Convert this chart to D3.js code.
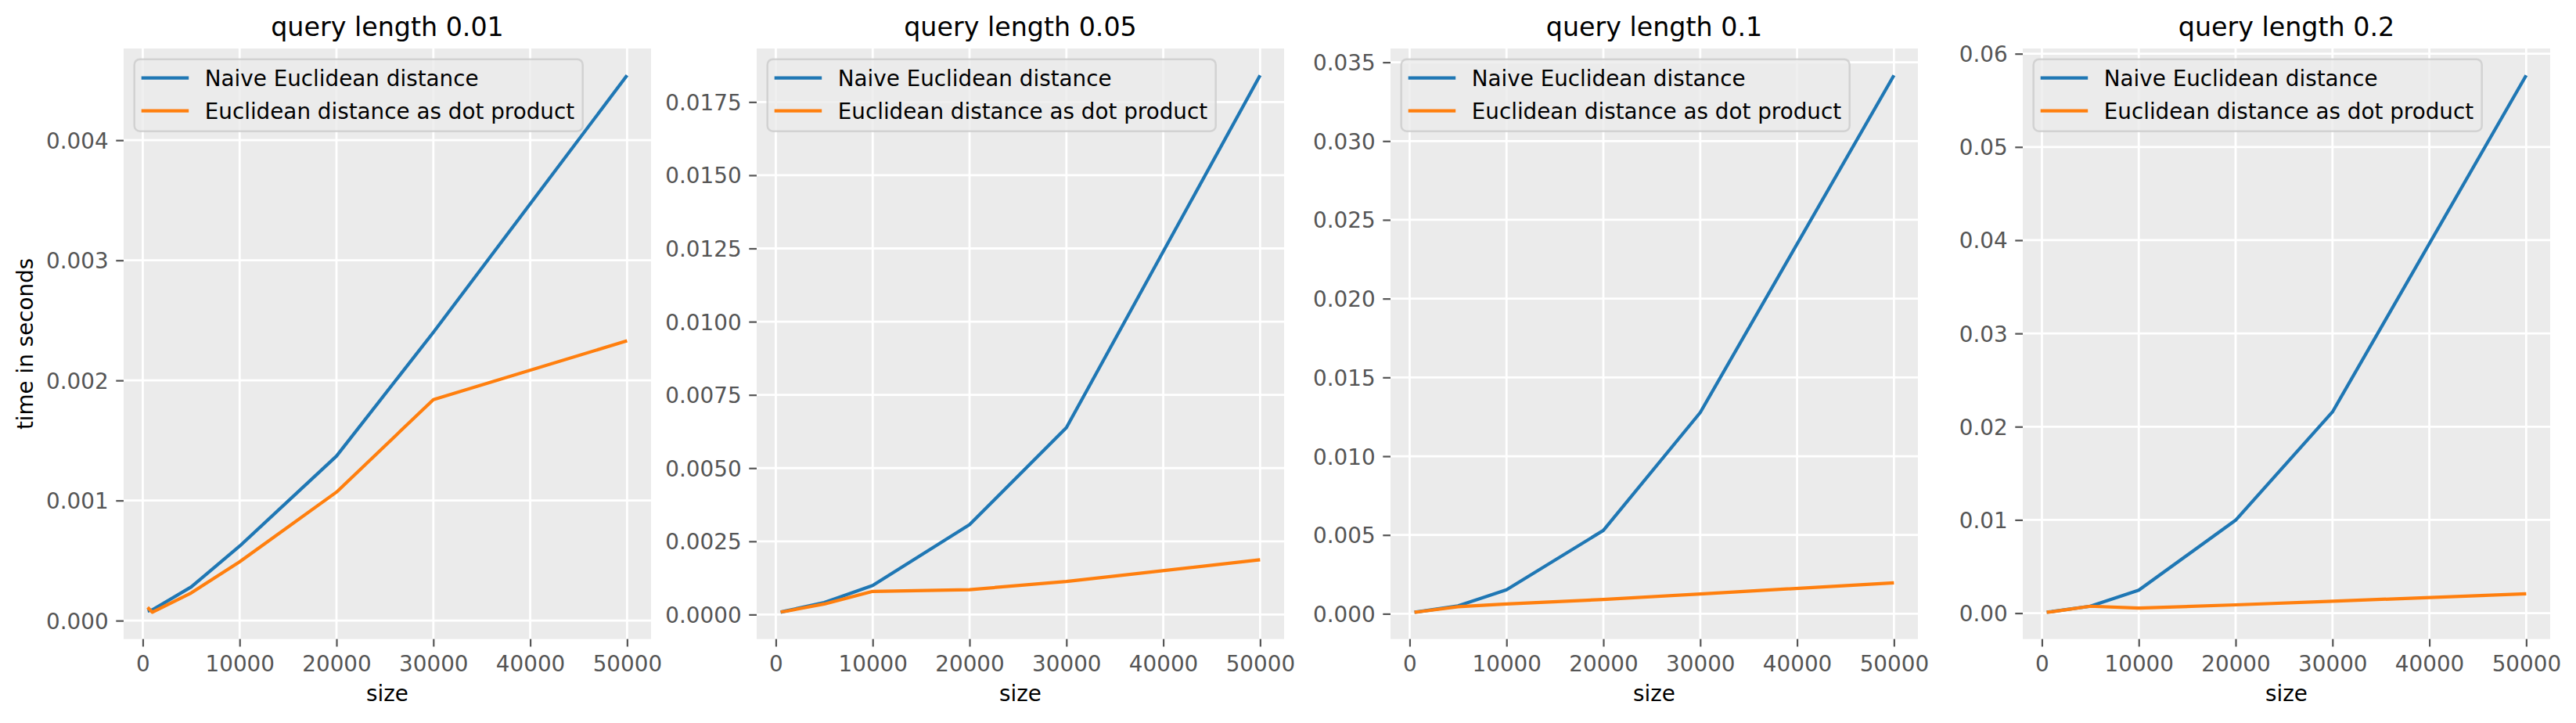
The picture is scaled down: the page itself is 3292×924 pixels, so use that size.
<!DOCTYPE html>
<html>
<head>
<meta charset="utf-8">
<script src="https://cdn.jsdelivr.net/npm/d3@7"></script>
<style>
  body { margin: 0; background: #fff; }
  text { font-family: 'DejaVu Sans', sans-serif; }
</style>
</head>
<body>
<div id="chart"></div>
<script>
var sizes = [500, 1000, 5000, 10000, 20000, 30000, 50000];
var titles = ['query length 0.01', 'query length 0.05', 'query length 0.1', 'query length 0.2'];
var seriesNames = ['Naive Euclidean distance', 'Euclidean distance as dot product'];

var naive001 = [0.00008, 0.00009, 0.00028, 0.00062, 0.00137, 0.00240, 0.00454];
var dot001 = [0.00011, 0.00007, 0.00023, 0.00049, 0.00107, 0.00184, 0.00233];
var naive005 = [0.00008, 0.00012, 0.00041, 0.00099, 0.00307, 0.00638, 0.01841];
var dot005 = [0.00009, 0.00011, 0.00036, 0.00079, 0.00085, 0.00113, 0.00187];
var naive01 = [0.00010, 0.00014, 0.00050, 0.00152, 0.00529, 0.01277, 0.03417];
var dot01 = [0.00010, 0.00013, 0.00045, 0.00062, 0.00091, 0.00126, 0.00196];
var naive02 = [0.00010, 0.00016, 0.00074, 0.00246, 0.00997, 0.02158, 0.05768];
var dot02 = [0.00010, 0.00014, 0.00074, 0.00054, 0.00089, 0.00128, 0.00207];

var xTicks = [0, 10000, 20000, 30000, 40000, 50000];
var yTicks001 = [0, 0.001, 0.002, 0.003, 0.004];
var yTicks005 = [0, 0.0025, 0.005, 0.0075, 0.01, 0.0125, 0.015, 0.0175];
var yTicks01 = [0, 0.005, 0.01, 0.015, 0.02, 0.025, 0.03, 0.035];
var yTicks02 = [0, 0.01, 0.02, 0.03, 0.04, 0.05, 0.06];
var yFormats = ['.3f', '.4f', '.3f', '.2f'];

var panels = [
  {title: titles[0], naive: naive001, dot: dot001, yTicks: yTicks001, fmt: yFormats[0]},
  {title: titles[1], naive: naive005, dot: dot005, yTicks: yTicks005, fmt: yFormats[1]},
  {title: titles[2], naive: naive01, dot: dot01, yTicks: yTicks01, fmt: yFormats[2]},
  {title: titles[3], naive: naive02, dot: dot02, yTicks: yTicks02, fmt: yFormats[3]}
];

var colors = ['#1f77b4', '#ff7f0e'];
var chartWidth = 3292;
var chartHeight = 924;
var lefts = [158, 967, 1777, 2585];
var axTop = 62;
var axWidth = 674;
var axHeight = 754.7;
var tickLen = 9.7;
var fontSize = 27.8;
var bg = '#ebebeb';

var svg = d3.select('#chart')
    .append('svg')
    .attr('width', chartWidth)
    .attr('height', chartHeight);

// matplotlib style 5% margins
function padded(ext) {
  var m = (ext[1] - ext[0]) * 0.05;
  return [ext[0] - m, ext[1] + m];
}

panels.forEach(function(p, i) {
  var g = svg.append('g')
      .attr('transform', 'translate(' + lefts[i] + ',' + axTop + ')');

  var scaleX = d3.scaleLinear()
      .domain(padded(d3.extent(sizes)))
      .range([0, axWidth]);

  var scaleY = d3.scaleLinear()
      .domain(padded(d3.extent(p.naive.concat(p.dot))))
      .range([axHeight, 0]);

  // background
  g.append('rect')
      .attr('width', axWidth)
      .attr('height', axHeight)
      .attr('fill', bg);

  // grid
  g.selectAll('.gx')
      .data(xTicks)
      .enter()
      .append('line')
      .attr('x1', function(d) { return scaleX(d); })
      .attr('x2', function(d) { return scaleX(d); })
      .attr('y1', 0)
      .attr('y2', axHeight)
      .attr('stroke', '#fff')
      .attr('stroke-width', 2.8);

  g.selectAll('.gy')
      .data(p.yTicks)
      .enter()
      .append('line')
      .attr('x1', 0)
      .attr('x2', axWidth)
      .attr('y1', function(d) { return scaleY(d); })
      .attr('y2', function(d) { return scaleY(d); })
      .attr('stroke', '#fff')
      .attr('stroke-width', 2.8);

  // axes
  var xAxis = d3.axisBottom(scaleX)
      .tickValues(xTicks)
      .tickFormat(d3.format('d'))
      .tickSize(tickLen)
      .tickPadding(9.7);

  var yAxis = d3.axisLeft(scaleY)
      .tickValues(p.yTicks)
      .tickFormat(d3.format(p.fmt))
      .tickSize(tickLen)
      .tickPadding(9.7);

  var ax = g.append('g')
      .attr('transform', 'translate(0,' + axHeight + ')')
      .call(xAxis);
  var ay = g.append('g').call(yAxis);

  [ax, ay].forEach(function(a) {
    a.select('.domain').remove();
    a.selectAll('line').attr('stroke', '#555').attr('stroke-width', 2.2);
    a.selectAll('text')
        .attr('fill', '#555')
        .style('font-size', fontSize + 'px')
        .style('font-family', 'DejaVu Sans');
  });
  ax.selectAll('text').attr('dy', null).attr('y', 41.8);
  ay.selectAll('text').attr('dy', '0.36em');

  // lines
  var line = d3.line()
      .x(function(d, j) { return scaleX(sizes[j]); })
      .y(function(d) { return scaleY(d); });

  [p.naive, p.dot].forEach(function(s, k) {
    g.append('path')
        .attr('d', line(s))
        .attr('fill', 'none')
        .attr('stroke', colors[k])
        .attr('stroke-width', 4.2)
        .attr('stroke-linejoin', 'round');
  });

  // title
  g.append('text')
      .attr('x', axWidth / 2)
      .attr('y', 45.5 - axTop)
      .attr('text-anchor', 'middle')
      .style('font-size', '33.3px')
      .attr('fill', '#000')
      .text(p.title);

  // x label
  g.append('text')
      .attr('x', axWidth / 2)
      .attr('y', 896 - axTop)
      .attr('text-anchor', 'middle')
      .style('font-size', fontSize + 'px')
      .attr('fill', '#000')
      .text('size');

  // legend
  var lg = g.append('g').attr('transform', 'translate(13.7,13.7)');
  lg.append('rect')
      .attr('width', 573)
      .attr('height', 92)
      .attr('rx', 7)
      .attr('fill', bg)
      .attr('fill-opacity', 0.8)
      .attr('stroke', '#cccccc')
      .attr('stroke-opacity', 0.8)
      .attr('stroke-width', 2.5);

  seriesNames.forEach(function(name, k) {
    var yy = 24 + k * 42;
    lg.append('line')
        .attr('x1', 9)
        .attr('x2', 69.5)
        .attr('y1', yy)
        .attr('y2', yy)
        .attr('stroke', colors[k])
        .attr('stroke-width', 4.2);
    lg.append('text')
        .attr('x', 90)
        .attr('y', yy + 10.2)
        .style('font-size', fontSize + 'px')
        .attr('fill', '#000')
        .text(name);
  });
});

// y label on the first panel only
svg.append('text')
    .attr('transform', 'translate(42,439.4) rotate(-90)')
    .attr('text-anchor', 'middle')
    .style('font-size', fontSize + 'px')
    .attr('fill', '#000')
    .text('time in seconds');
</script>
</body>
</html>
